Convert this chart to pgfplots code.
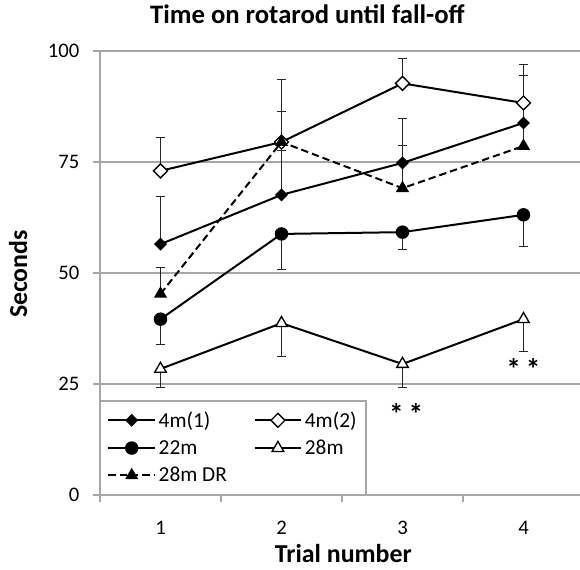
\documentclass[border=0pt]{standalone}
\usepackage{pgfplots}
\pgfplotsset{compat=1.18}
\usepackage{fontspec}
\setmainfont{Carlito}
\definecolor{gridgray}{HTML}{A6A6A6}
\begin{document}
\begin{tikzpicture}
\begin{axis}[
  scale only axis, width=360pt, height=333pt,
  xmin=0.5, xmax=4.467, ymin=0, ymax=100,
  axis lines=left,
  axis line style={draw=gridgray, line width=1.1pt, -},
  xtick={1,2,3,4},
  major x tick style={draw=none},
  minor xtick={0.5,1.5,2.5,3.5},
  minor x tick style={draw=gridgray, line width=1.1pt},
  ytick={0,25,50,75,100},
  y tick style={draw=gridgray, line width=1.1pt},
  ymajorgrids,
  grid style={draw=gridgray, line width=1.1pt},
  tick align=outside, major tick length=5pt, minor tick length=5pt,
  tick label style={font=\fontsize{15.5}{18}\selectfont},
  xticklabel style={yshift=-11pt},
  yticklabel style={xshift=-7pt},
  /pgf/number format/assume math mode=true,
  title={Time on rotarod until fall-off},
  title style={font=\fontsize{20}{24}\selectfont\bfseries, at={(axis description cs:0.432,1.045)}, anchor=base},
  xlabel={Trial number},
  xlabel style={font=\fontsize{19.4}{23}\selectfont\bfseries, at={(axis description cs:0.507,-0.152)}, anchor=base},
  ylabel={Seconds},
  ylabel style={font=\fontsize{19.4}{23}\selectfont\bfseries, at={(axis description cs:-0.152,0.4977)}, anchor=base},
  legend columns=2,
  legend cell align=left,
  legend style={at={(axis cs:0.5,0)}, anchor=south west, draw=gridgray, line width=1.1pt, fill=white,
    font=\fontsize{16}{19}\selectfont, row sep=4pt, inner xsep=5pt, inner ysep=6pt,
    /tikz/every even column/.append style={column sep=18pt}},
  legend image code/.code={\draw[mark repeat=2, mark phase=2] plot coordinates {(0pt,0pt) (17.5pt,0pt) (35pt,0pt)};},
  every axis plot/.append style={line width=1.5pt, black},
  error bars/error bar style={line width=0.75pt, draw=black!85, solid},
  error bars/error mark options={rotate=90, mark size=3.4pt, line width=0.75pt, draw=black!85, solid},
]
% 4m(1)
\addplot+[black, solid, mark=square*, mark options={rotate=45, fill=black, mark size=2.65pt, solid},
  error bars/.cd, y dir=plus, y explicit]
  coordinates {(1,56.5) +- (0,10.8) (2,67.6) +- (0,10.0) (3,74.8) +- (0,10.1) (4,83.8) +- (0,10.6)};
\addlegendentry{4m(1)}
% 4m(2)
\addplot+[black, solid, mark=square*, mark options={rotate=45, fill=white, mark size=3.7pt, line width=1pt, solid},
  error bars/.cd, y dir=plus, y explicit]
  coordinates {(1,73.0) +- (0,7.5) (2,79.5) +- (0,6.8) (3,92.7) +- (0,5.7) (4,88.3) +- (0,8.7)};
\addlegendentry{4m(2)}
% 22m
\addplot+[black, solid, mark=*, mark options={fill=black, mark size=4.3pt, solid},
  error bars/.cd, y dir=minus, y explicit]
  coordinates {(1,39.6) +- (0,5.8) (2,58.8) +- (0,7.9) (3,59.2) +- (0,3.8) (4,63.1) +- (0,7.2)};
\addlegendentry{22m}
% 28m
\addplot+[black, solid, mark=triangle*, mark options={fill=white, mark size=5pt, line width=1pt, solid},
  error bars/.cd, y dir=minus, y explicit]
  coordinates {(1,28.4) +- (0,4.1) (2,38.7) +- (0,7.4) (3,29.5) +- (0,5.2) (4,39.6) +- (0,7.2)};
\addlegendentry{28m}
% 28m DR
\addplot+[black, dash pattern=on 5.5pt off 3pt, mark=triangle*, mark options={fill=black, mark size=4.2pt, solid},
  error bars/.cd, y dir=plus, y explicit]
  coordinates {(1,45.3) +- (0,6.0) (2,79.5) +- (0,14.0) (3,69.1) +- (0,9.7) (4,78.6) +- (0,5.0)};
\addlegendentry{28m DR}
\node[anchor=north, inner sep=0pt, font=\fontsize{22}{24}\selectfont\bfseries] at (axis cs:3.03,20.6) {*\,*};
\node[anchor=north, inner sep=0pt, font=\fontsize{22}{24}\selectfont\bfseries] at (axis cs:4.0,30.8) {*\,*};
\end{axis}
\pgfresetboundingbox
\useasboundingbox (-75pt,-55.5pt) rectangle (360pt,371.25pt);
\end{tikzpicture}
\end{document}
